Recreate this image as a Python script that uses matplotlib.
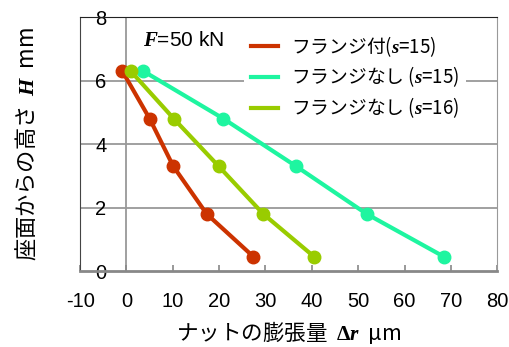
import numpy as np
import matplotlib
matplotlib.use("Agg")
import matplotlib.pyplot as plt

plt.rcParams['mathtext.fontset'] = 'custom'
plt.rcParams['mathtext.it'] = 'Liberation Serif:italic:bold'
plt.rcParams['mathtext.rm'] = 'Liberation Serif:bold'
plt.rcParams['mathtext.bf'] = 'Liberation Serif:bold'

JP = 'Noto Sans CJK JP'

# data
height = [6.3, 4.8, 3.3, 1.8, 0.45]          # H mm
dr_flange_s15 = [-0.9, 5.0, 10.1, 17.3, 27.4]   # Δr µm
dr_plain_s15 = [3.6, 20.9, 36.6, 51.8, 68.5]
dr_plain_s16 = [0.9, 10.2, 19.9, 29.5, 40.5]
labels = ["フランジ付($s$=15)", "フランジなし ($s$=15)", "フランジなし ($s$=16)"]
colors = ['#CC3300', '#1EF5A0', '#99CC00']
xticks = list(range(-10, 81, 10))
yticks = [0, 2, 4, 6, 8]

fig = plt.figure(figsize=(5.1, 3.47), dpi=100)
ax = fig.add_axes([0.157, 0.219, 0.818, 0.732])

series = [dr_flange_s15, dr_plain_s15, dr_plain_s16]
for xs, lab, c in zip(series, labels, colors):
    ax.plot(xs, height, '-o', color=c, lw=3, ms=9, label=lab, zorder=3)

ax.set_xlim(-10, 80)
ax.set_ylim(0, 8)
ax.set_xticks(xticks)
ax.set_yticks(yticks)
ax.set_xticklabels([str(t) for t in xticks], family='Liberation Sans', fontsize=14.5)
ax.set_yticklabels([str(t) for t in yticks], family='Liberation Sans', fontsize=14.5)

for y in [2, 4, 6]:
    ax.axhline(y, color='#999999', lw=1.3, zorder=1)
ax.axvline(0, color='#999999', lw=1.3, zorder=1)

ax.spines['top'].set_color('#222222')
ax.spines['left'].set_color('#444444')
ax.spines['right'].set_color('#999999')
ax.spines['bottom'].set_color('#888888')
ax.spines['bottom'].set_linewidth(2)
ax.tick_params(axis='x', direction='in', length=4, width=1.2, color='#888888', pad=15)
ax.tick_params(axis='y', length=0, pad=-19)

ax.set_xlabel("ナットの膨張量  $\\Delta r$  μm", family=JP, fontsize=15.5)
ax.xaxis.set_label_coords(0.5, -0.19)
ax.set_ylabel("座面からの高さ  $H$  mm", family=JP, fontsize=16)
ax.yaxis.set_label_coords(-0.1, 0.5)

ax.text(0.151, 0.909, "$F$=50 kN", transform=ax.transAxes, family='Liberation Sans',
        fontsize=15, ha='left', va='center')

leg = ax.legend(loc='upper left', bbox_to_anchor=(0.37, 1.0), prop={'family': JP, 'size': 13.5},
                frameon=True, facecolor='white', edgecolor='none', framealpha=1,
                handlelength=1.4, handletextpad=0.7, labelspacing=0.32, borderpad=0.4,
                fancybox=False)
for line in leg.get_lines():
    line.set_marker('')
    line.set_linewidth(3)
leg.set_zorder(2)

fig.savefig("out.png", dpi=100)
